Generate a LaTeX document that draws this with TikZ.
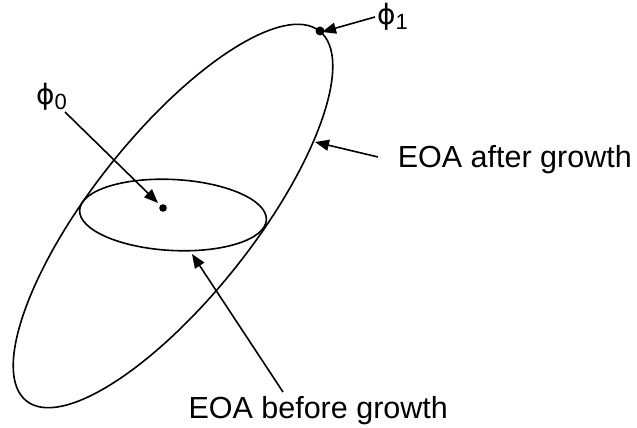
\documentclass[tikz,border=0pt]{standalone}
\usepackage{fontspec}
\setmainfont{Liberation Sans}
\newfontfamily\phifont{DejaVu Sans}
\usetikzlibrary{arrows.meta}
\begin{document}
\begin{tikzpicture}[x=1pt,y=1pt,
  curve/.style={line width=1.6pt, black},
  pointer/.style={line width=1.6pt, -{Triangle[length=14pt,width=11pt]}},
  lbl/.style={inner sep=0pt, anchor=base west, font=\fontsize{30.5}{36}\selectfont}]
\useasboundingbox (0,0) rectangle (637,428);
% ellipses
\draw[curve] (173,212) ellipse[x radius=236, y radius=81, rotate=51.6];
\draw[curve] (173,213) ellipse[x radius=93.5, y radius=35.5, rotate=-3];
% points
\fill (163,220) circle[radius=3.8];
\fill (320,397) circle[radius=4.5];
\coordinate (p0) at (163,220);
\coordinate (p1) at (320,397);
% labels
\node[lbl] (phi0) at (36,323) {{\phifont\fontsize{28}{32}\selectfont ϕ}\raisebox{-5pt}{\fontsize{22}{24}\selectfont 0}};
\node[lbl] (phi1) at (377,403) {{\phifont\fontsize{28}{32}\selectfont ϕ}\raisebox{-5pt}{\fontsize{22}{24}\selectfont 1}};
\node[lbl] (after) at (397.6,260) {EOA after growth};
\node[lbl] (before) at (188.3,9.7) {EOA before growth};
% arrow endpoints
\coordinate (s0) at (65,316);
\coordinate (t0) at (158,225);
\coordinate (s1) at (375,411);
\coordinate (t1) at (322,396);
\coordinate (sa) at (378,271);
\coordinate (ta) at (315,286);
\coordinate (sb) at (283,36);
\coordinate (tb) at (192,174);
\draw[pointer] (s0) -- (t0);
\draw[pointer] (s1) -- (t1);
\draw[pointer] (sa) -- (ta);
\draw[pointer] (sb) -- (tb);
\end{tikzpicture}
\end{document}
